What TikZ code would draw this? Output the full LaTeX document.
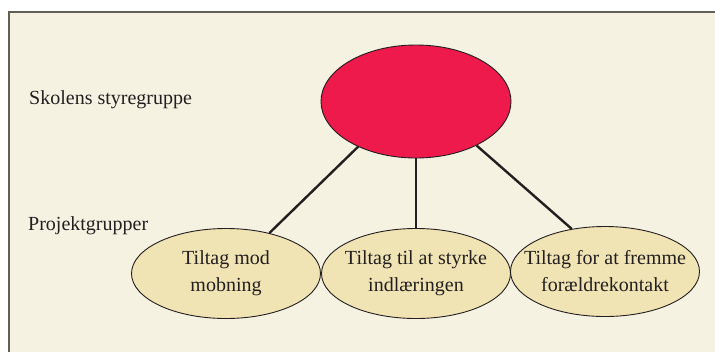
\documentclass[tikz,border=0pt]{standalone}
\usepackage{fontspec}
\setmainfont{Liberation Serif}
\usepackage{tikz}
\usetikzlibrary{shapes.geometric}

\definecolor{baggrund}{RGB}{246,242,226}
\definecolor{styrerød}{RGB}{237,26,75}
\definecolor{projektgul}{RGB}{240,228,180}
\definecolor{streg}{RGB}{35,31,32}
\definecolor{ramme}{RGB}{95,95,85}

\begin{document}
\begin{tikzpicture}[
            x=1pt, y=-1pt,                % 1 enhed = 1 pixel, y nedad
            node distance=172pt,
            every node/.style={
                text=streg,
                font=\fontsize{20}{27}\selectfont
            },
            gruppe/.style={
                ellipse,
                draw=streg,
                line width=0.9pt,
                inner sep=0pt
            },
            styre/.style={gruppe, fill=styrerød, minimum width=190pt, minimum height=113pt},
            projekt/.style={gruppe, fill=projektgul, minimum width=189pt, minimum height=90pt},
            tekst/.style={align=center, inner sep=0pt},
            forbindelse/.style={draw=streg, line width=2.4pt}
        ]
            % ramme og baggrund
            \useasboundingbox (0,0) rectangle (715,351);
            \draw[ramme, line width=1.5pt, fill=baggrund] (9,12) rectangle (740,380);

            % noder
            \node[styre] (styre) at (416,101.5) {};
            \node[projekt] (p2) [below of=styre] {};
            \node[projekt] (p1) [left of=p2, node distance=190pt] {};
            \node[projekt] (p3) [right of=p2, node distance=189pt, yshift=2pt] {};

            % tekster
            \node[tekst] (t1) at (p1) {Tiltag mod\\mobning};
            \node[tekst] (t2) at (p2) {Tiltag til at styrke\\indlæringen};
            \node[tekst] (t3) at (p3) {Tiltag for at fremme\\forældrekontakt};
            \node[anchor=west, inner sep=0pt] (niveau1) at (29,100) {Skolens styregruppe};
            \node[anchor=west, inner sep=0pt] (niveau2) at (28,226) {Projektgrupper};

            % forbindelser
            \draw[forbindelse] (styre.218.5) -- (p1.43);
            \draw[forbindelse] (styre.south) -- (p2.north);
            \draw[forbindelse] (styre.324.8) -- (p3.128.6);
        \end{tikzpicture}
\end{document}
